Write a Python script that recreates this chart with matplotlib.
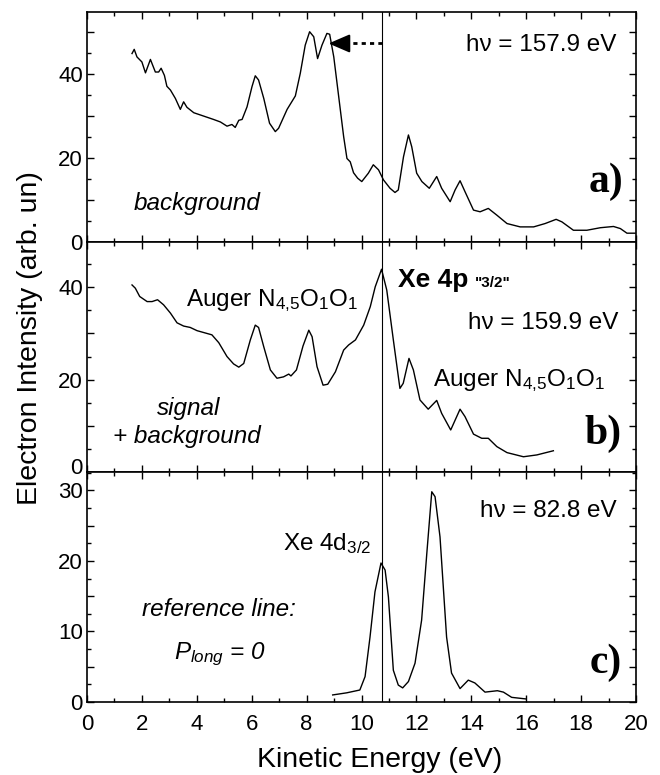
import matplotlib
matplotlib.use("Agg")
import matplotlib.pyplot as plt
from matplotlib.ticker import MultipleLocator, FuncFormatter
from matplotlib.transforms import ScaledTranslation

plt.rcParams['font.family'] = ['Liberation Sans', 'DejaVu Sans']
plt.rcParams['mathtext.fontset'] = 'custom'
plt.rcParams['mathtext.rm'] = 'Liberation Sans'
plt.rcParams['mathtext.it'] = 'Liberation Sans:italic'
plt.rcParams['mathtext.bf'] = 'Liberation Sans:bold'

# ---- data: panel a (background, hv = 157.9 eV) ----
xa = [1.64, 1.72, 1.82, 2.0, 2.13, 2.31, 2.49, 2.61, 2.70, 2.82, 2.91, 3.04, 3.22, 3.40,
      3.52, 3.64, 3.89, 4.25, 4.61, 4.86, 5.10, 5.28, 5.40, 5.53, 5.65, 5.83, 6.01, 6.13,
      6.25, 6.44, 6.65, 6.86, 6.98, 7.29, 7.59, 7.77, 7.95, 8.11, 8.26, 8.40, 8.56, 8.74,
      8.84, 8.99, 9.17, 9.35, 9.47, 9.59, 9.71, 9.86, 10.01, 10.25, 10.43, 10.62, 10.80,
      11.04, 11.22, 11.34, 11.53, 11.71, 11.83, 12.01, 12.20, 12.47, 12.74, 12.92, 13.23,
      13.41, 13.59, 13.77, 14.08, 14.32, 14.62, 14.93, 15.30, 15.78, 16.27, 16.69, 17.09,
      17.30, 17.72, 18.21, 18.70, 19.18, 19.43, 19.67, 19.97]
ya = [44.9, 45.9, 44.1, 42.9, 40.3, 43.5, 40.5, 40.5, 41.4, 39.7, 37.1, 36.2, 34.2, 31.6,
      33.4, 32.1, 30.8, 30.0, 29.2, 28.6, 27.6, 28.0, 27.3, 29.0, 29.2, 32.2, 37.0, 39.6,
      38.6, 34.2, 28.3, 26.3, 27.1, 31.6, 34.8, 40.2, 46.9, 50.1, 48.9, 43.7, 46.9, 49.7,
      49.5, 44.1, 34.6, 25.1, 19.9, 19.1, 16.5, 15.2, 14.4, 16.4, 18.4, 17.2, 14.8,
      12.8, 11.8, 12.4, 20.3, 25.5, 22.7, 16.4, 14.4, 12.8, 15.6, 12.8, 9.6,
      12.4, 14.6, 12.0, 7.6, 7.2, 8.0, 6.4, 4.4, 3.6, 3.6, 4.4, 5.4,
      4.8, 2.8, 2.8, 3.4, 3.7, 3.2, 2.1, 2.1]

# ---- data: panel b (signal + background, hv = 159.9 eV) ----
xb = [1.64, 1.76, 1.92, 2.19, 2.37, 2.57, 2.79, 3.04, 3.28, 3.52, 3.76, 4.01, 4.25, 4.55,
      4.80, 5.10, 5.34, 5.53, 5.71, 5.95, 6.13, 6.25, 6.44, 6.68, 6.92, 7.16, 7.35, 7.43,
      7.63, 7.87, 8.08, 8.20, 8.38, 8.60, 8.77, 9.05, 9.35, 9.53, 9.78, 10.08, 10.32,
      10.50, 10.73, 10.92, 11.16, 11.40, 11.52, 11.73, 11.89, 12.13, 12.43, 12.74, 12.92,
      13.25, 13.59, 13.77, 14.08, 14.38, 14.62, 14.93, 15.30, 15.90, 16.39, 16.99]
yb = [40.5, 39.8, 38.0, 36.9, 36.9, 37.3, 36.2, 34.4, 32.3, 31.6, 31.3, 30.6, 30.2, 29.7,
      28.0, 25.0, 23.4, 22.7, 23.5, 28.6, 31.8, 31.3, 27.1, 22.1, 20.3, 20.6, 21.2, 20.8,
      22.1, 27.3, 30.7, 29.3, 22.8, 18.8, 19.0, 21.7, 26.4, 27.5, 28.6, 31.8, 35.8,
      40.1, 43.9, 39.4, 28.6, 18.1, 19.2, 24.6, 22.1, 15.6, 13.6, 15.5, 12.7,
      9.1, 13.6, 12.0, 8.2, 7.3, 7.3, 5.5, 4.2, 3.3, 3.7, 4.6]

# ---- data: panel c (reference line, hv = 82.8 eV) ----
xc = [8.95, 9.46, 9.94, 10.13, 10.31, 10.49, 10.71, 10.86, 10.98, 11.16, 11.34, 11.50,
      11.71, 11.95, 12.19, 12.38, 12.56, 12.68, 12.86, 13.10, 13.28, 13.59, 13.89, 14.13,
      14.50, 14.95, 15.17, 15.47, 16.0]
yc = [1.0, 1.3, 1.7, 3.6, 9.2, 15.6, 19.7, 18.7, 14.9, 4.5, 2.4, 2.0,
      2.9, 5.5, 11.6, 21.1, 29.8, 29.1, 23.4, 9.2, 4.1, 1.9, 3.1, 2.7,
      1.4, 1.6, 1.4, 0.66, 0.43]

ref_line = 10.75
arrow_from = 10.75
arrow_to = 8.8
arrow_y = 47.3

fig = plt.figure(figsize=(6.6, 7.75), dpi=100)
L, W = 87 / 660, (636 - 87) / 660
H = 230 / 775
axa = fig.add_axes([L, 1 - 242 / 775, W, H])
axb = fig.add_axes([L, 1 - 472 / 775, W, H])
axc = fig.add_axes([L, 1 - 702 / 775, W, H])

def style(ax, ymax, major, labstep):
    ax.set_xlim(0, 20)
    ax.set_ylim(0, ymax)
    ax.xaxis.set_major_locator(MultipleLocator(2))
    ax.xaxis.set_minor_locator(MultipleLocator(1))
    ax.yaxis.set_major_locator(MultipleLocator(major))
    ax.yaxis.set_minor_locator(MultipleLocator(major / 2))
    ax.yaxis.set_major_formatter(FuncFormatter(
        lambda v, p: (f"{int(round(v))}" if abs(v / labstep - round(v / labstep)) < 1e-6 else "")))
    ax.tick_params(which='both', direction='in', top=True, right=True, labelsize=16)
    ax.tick_params(which='major', length=5, width=1.0)
    ax.tick_params(which='minor', length=3, width=1.0)
    ax.tick_params(axis='y', pad=3)
    ax.tick_params(axis='x', pad=9)
    for s in ax.spines.values():
        s.set_linewidth(1.2)
    ax.axvline(ref_line, color='black', lw=0.8)

style(axa, 54.8, 10, 20)
style(axb, 49.8, 10, 20)
style(axc, 32.6, 5, 10)
axa.tick_params(labelbottom=False)
axb.tick_params(labelbottom=False)

lw = 1.0
axa.plot(xa, ya, color='black', lw=lw)
axb.plot(xb, yb, color='black', lw=lw)
axc.plot(xc, yc, color='black', lw=lw)

fs = 17.5
auger = r"Auger N$_{4{,}5}$O$_{1}$O$_{1}$"
# panel a texts
axa.text(19.3, 45.5, "hν = 157.9 eV", ha='right', va='baseline', fontsize=fs)
axa.text(19.53, 12.0, "a)", ha='right', va='baseline', fontsize=30,
         family='Liberation Serif', weight='bold')
axa.text(1.70, 7.6, "background", ha='left', va='baseline', fontsize=fs, style='italic')
axa.plot([arrow_from, 9.45], [arrow_y, arrow_y], color='black', lw=2,
         linestyle=(0, (1.5, 1.5)))
axa.annotate('', xy=(arrow_to, arrow_y), xytext=(9.5, arrow_y),
             arrowprops=dict(arrowstyle='-|>,head_length=0.65,head_width=0.28',
                             mutation_scale=20, color='black', lw=1.5,
                             shrinkA=0, shrinkB=0))

# panel b texts
axb.text(3.61, 36.0, auger, ha='left', va='baseline', fontsize=fs)
axb.text(11.34, 40.1, "Xe 4p", ha='left', va='baseline', fontsize=19, weight='bold')
axb.text(14.13, 40.0, '"3/2"', ha='left', va='baseline', fontsize=11, weight='bold')
axb.text(19.34, 30.9, "hν = 159.9 eV", ha='right', va='baseline', fontsize=fs)
axb.text(12.59, 18.5, auger, ha='left', va='baseline', fontsize=fs)
axb.text(19.48, 6.1, "b)", ha='right', va='baseline', fontsize=30,
         family='Liberation Serif', weight='bold')
axb.text(2.53, 12.3, "signal", ha='left', va='baseline', fontsize=fs, style='italic')
axb.text(0.95, 6.2, "+ background", ha='left', va='baseline', fontsize=fs, style='italic')

# panel c texts
axc.text(19.3, 26.2, "hν = 82.8 eV", ha='right', va='baseline', fontsize=fs)
axc.text(7.13, 21.5, r"Xe 4d$_{3/2}$", ha='left', va='baseline', fontsize=fs)
axc.text(19.48, 4.1, "c)", ha='right', va='baseline', fontsize=30,
         family='Liberation Serif', weight='bold')
axc.text(1.99, 12.2, "reference line:", ha='left', va='baseline', fontsize=fs, style='italic')
axc.text(3.17, 6.05, r"$P_{long}$ = 0", ha='left', va='baseline', fontsize=fs, style='italic')

fig.text(30 / 660, 1 - 338 / 775, "Electron Intensity (arb. un)", rotation=90,
         ha='center', va='center', fontsize=20.5)
fig.text(380 / 660, 1 - 760 / 775, "Kinetic Energy (eV)", ha='center', va='center',
         fontsize=20.5)

# lift panel b's "0" tick label slightly, as in the reference
fig.canvas.draw()
for tick in axb.yaxis.get_major_ticks():
    if abs(tick.get_loc()) < 1e-9:
        lab = tick.label1
        lab.set_transform(lab.get_transform() + ScaledTranslation(0, 6 / 100, fig.dpi_scale_trans))

fig.savefig("out.png", dpi=100)
